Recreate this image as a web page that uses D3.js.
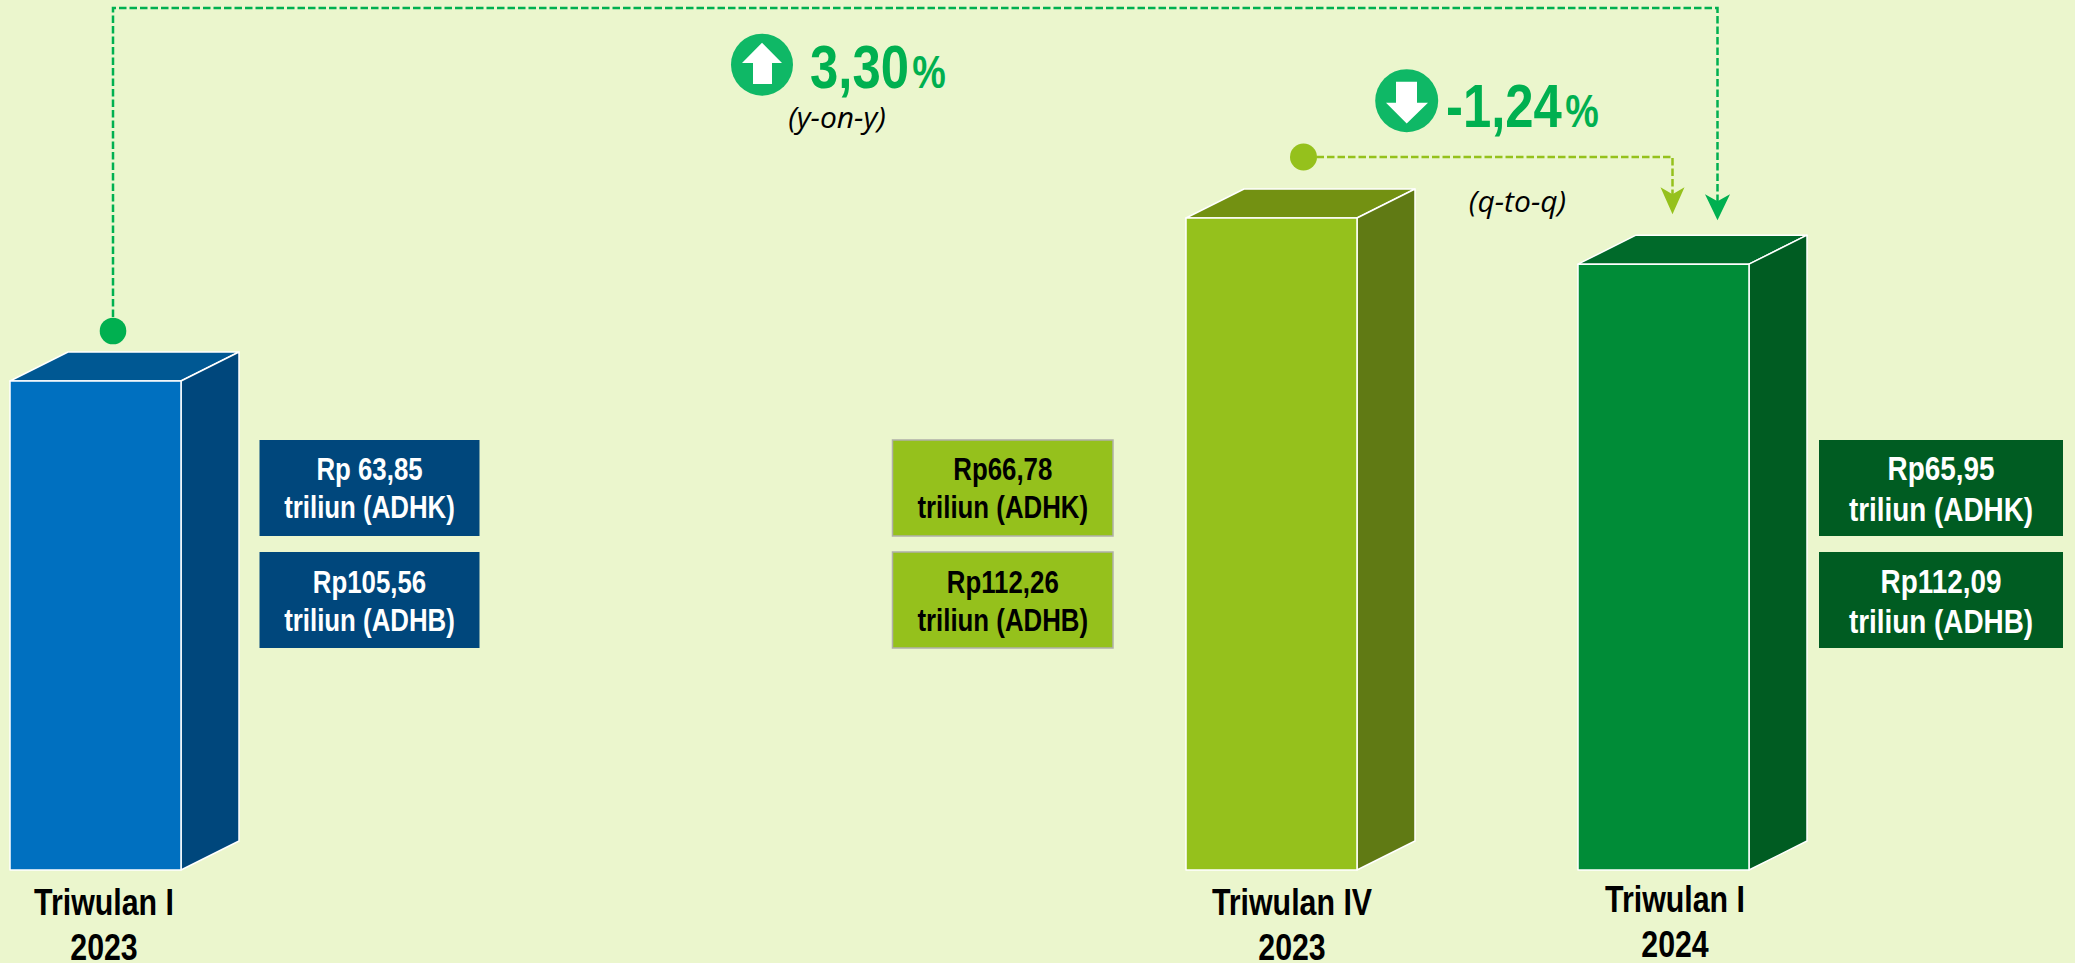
<!DOCTYPE html>
<html>
<head>
<meta charset="utf-8">
<title>PDRB Triwulan I 2024</title>
<script src="https://cdn.jsdelivr.net/npm/d3@7"></script>
<style>
    html, body { margin: 0; padding: 0; background: #ebf6cd; overflow: hidden; }
    svg { display: block; }
    text { font-family: "Liberation Sans", sans-serif; font-weight: bold; }
</style>
</head>
<body>
<div id="graph"></div>
<script>
// data
const quarters = ["Triwulan I", "Triwulan IV", "Triwulan I"];
const years = ["2023", "2023", "2024"];
const quarterIndex = [0, 3, 4];
const adhk = [63.85, 66.78, 65.95];
const adhkLabels = ["Rp 63,85", "Rp66,78", "Rp65,95"];
const adhbLabels = ["Rp105,56", "Rp112,26", "Rp112,09"];
const growthLabels = ["3,30", "-1,24"];
const growthNames = ["(y-on-y)", "(q-to-q)"];

const width = 2075, height = 963;
const bar_width = 171, depth_x = 58, depth_y = 29;
const green = "#00b050", lime = "#95c11c", icon_green = "#0fb866";
// no narrow font installed, so squeeze the bold one
const narrow = 0.82;

const front = ["#0070c0", "#95c11c", "#008c37"];
const top_face = ["#005893", "#739112", "#006a2a"];
const side = ["#00477c", "#607a14", "#005c22"];
const box_fill = ["#00477c", "#95c11c", "#005c22"];
const box_text = ["#ffffff", "#000000", "#ffffff"];
const box_x = [259.5, 892.5, 1819];
const box_width = [220, 220.5, 244];
const box_font = [31.5, 31.5, 34];
const box_line = [38, 38, 40.5];
const label_y_shift = [0, 0, -3];

let svg = d3.select("#graph")
    .append("svg")
    .attr("width", width)
    .attr("height", height);

svg.append("rect")
    .attr("width", width)
    .attr("height", height)
    .attr("fill", "#ebf6cd");

let x = d3.scaleLinear().domain([0, 4]).range([10, 1578]);
// the bars start from a cut baseline, not from zero
let y = d3.scaleLinear().domain([55.06, 66.78]).range([870, 218]);
const base = y(55.06);

function narrowText(str, tx, ty, size, color, anchor) {
    return svg.append("text")
        .attr("transform", `translate(${tx},${ty}) scale(${narrow},1)`)
        .attr("text-anchor", anchor)
        .attr("font-size", size)
        .attr("fill", color)
        .text(str);
}

let bars = svg.selectAll(".bar")
    .data(adhk)
    .enter()
    .append("g")
    .attr("class", "bar")
    .attr("stroke", "#ffffff")
    .attr("stroke-width", 1.5)
    .attr("stroke-linejoin", "round");

// top face
bars.append("path")
    .attr("fill", (d, i) => top_face[i])
    .attr("d", function(d, i) {
        let l = x(quarterIndex[i]);
        return `M${l},${y(d)}L${l + depth_x},${y(d) - depth_y}L${l + bar_width + depth_x},${y(d) - depth_y}L${l + bar_width},${y(d)}Z`;
    });

// side face
bars.append("path")
    .attr("fill", (d, i) => side[i])
    .attr("d", function(d, i) {
        let r = x(quarterIndex[i]) + bar_width;
        return `M${r},${y(d)}L${r + depth_x},${y(d) - depth_y}L${r + depth_x},${base - depth_y}L${r},${base}Z`;
    });

bars.append("rect")
    .attr("fill", (d, i) => front[i])
    .attr("x", (d, i) => x(quarterIndex[i]))
    .attr("y", d => y(d))
    .attr("width", bar_width)
    .attr("height", d => base - y(d));

// value boxes
function drawBoxes(labels, second_line, box_top, box_h, text_y) {
    labels.forEach(function(label, i) {
        svg.append("rect")
            .attr("x", box_x[i])
            .attr("y", box_top)
            .attr("width", box_width[i])
            .attr("height", box_h)
            .attr("fill", box_fill[i])
            .attr("stroke", i === 1 ? "#b0b0a8" : "none")
            .attr("stroke-width", 1.5);
        let cx = box_x[i] + box_width[i] / 2;
        narrowText(label, cx, text_y, box_font[i], box_text[i], "middle");
        narrowText(second_line, cx, text_y + box_line[i], box_font[i], box_text[i], "middle");
    });
}
drawBoxes(adhkLabels, "triliun (ADHK)", 440, 96, 480);
drawBoxes(adhbLabels, "triliun (ADHB)", 552, 96, 592.5);

// quarter names under the bars
quarters.forEach(function(q, i) {
    let cx = x(quarterIndex[i]) + [94, 106, 97][i];
    narrowText(q, cx, 915 + label_y_shift[i], 37, "#000", "middle");
    narrowText(years[i], cx, 960 + label_y_shift[i], 37, "#000", "middle");
});

// connectors between the bars
function connector(points, color, sw, tip_x, tip_y, head_w, head_h) {
    svg.append("path")
        .attr("d", d3.line()(points))
        .attr("fill", "none")
        .attr("stroke", color)
        .attr("stroke-width", sw)
        .attr("stroke-dasharray", "7.5,3");
    svg.append("path")
        .attr("d", `M${tip_x},${tip_y}L${tip_x - head_w / 2},${tip_y - head_h}L${tip_x},${tip_y - head_h + 7}L${tip_x + head_w / 2},${tip_y - head_h}Z`)
        .attr("fill", color);
}

const yoy_x = x(0) + 103, yoy_y = y(adhk[0]) - 50;
const qtq_x = x(3) + 117.5, qtq_y = y(adhk[1]) - 61;
const bar3_top = y(adhk[2]);

connector([[yoy_x, yoy_y - 14], [yoy_x, 8], [1717.5, 8], [1717.5, bar3_top - 50]],
    green, 2.5, 1717.5, bar3_top - 44, 25, 26);
connector([[qtq_x + 13, qtq_y], [1672.5, qtq_y], [1672.5, bar3_top - 55]],
    lime, 2.5, 1672.5, bar3_top - 50, 24, 27);

svg.append("circle").attr("cx", yoy_x).attr("cy", yoy_y).attr("r", 13.3).attr("fill", green);
svg.append("circle").attr("cx", qtq_x).attr("cy", qtq_y).attr("r", 13.5).attr("fill", lime);

// growth icons
svg.append("circle").attr("cx", 762).attr("cy", 64.7).attr("r", 31).attr("fill", icon_green);
svg.append("path")
    .attr("d", "M762,42.7L782,63L772,63L772,84L753,84L753,63L742,63Z")
    .attr("fill", "#ffffff");
svg.append("circle").attr("cx", 1406.7).attr("cy", 100.7).attr("r", 31.5).attr("fill", icon_green);
svg.append("path")
    .attr("d", "M1396,81.7L1417,81.7L1417,102.7L1428,102.7L1406.7,123.5L1386,102.7L1396,102.7Z")
    .attr("fill", "#ffffff");

// growth numbers
function growthText(label, name, tx, ty, name_x, name_y) {
    let t = narrowText(label, tx, ty, 62, green, "start");
    t.append("tspan")
        .attr("font-size", 46)
        .attr("dx", 4)
        .text("%");
    svg.append("text")
        .attr("x", name_x)
        .attr("y", name_y)
        .attr("text-anchor", "middle")
        .attr("fill", "#000")
        .attr("font-size", 30)
        .attr("font-style", "italic")
        .style("font-family", "'Open Sans', sans-serif")
        .style("font-weight", "normal")
        .text(name);
}
growthText(growthLabels[0], growthNames[0], 810, 88, 837, 128);
growthText(growthLabels[1], growthNames[1], 1446, 126.7, 1517.5, 212);
</script>
</body>
</html>
